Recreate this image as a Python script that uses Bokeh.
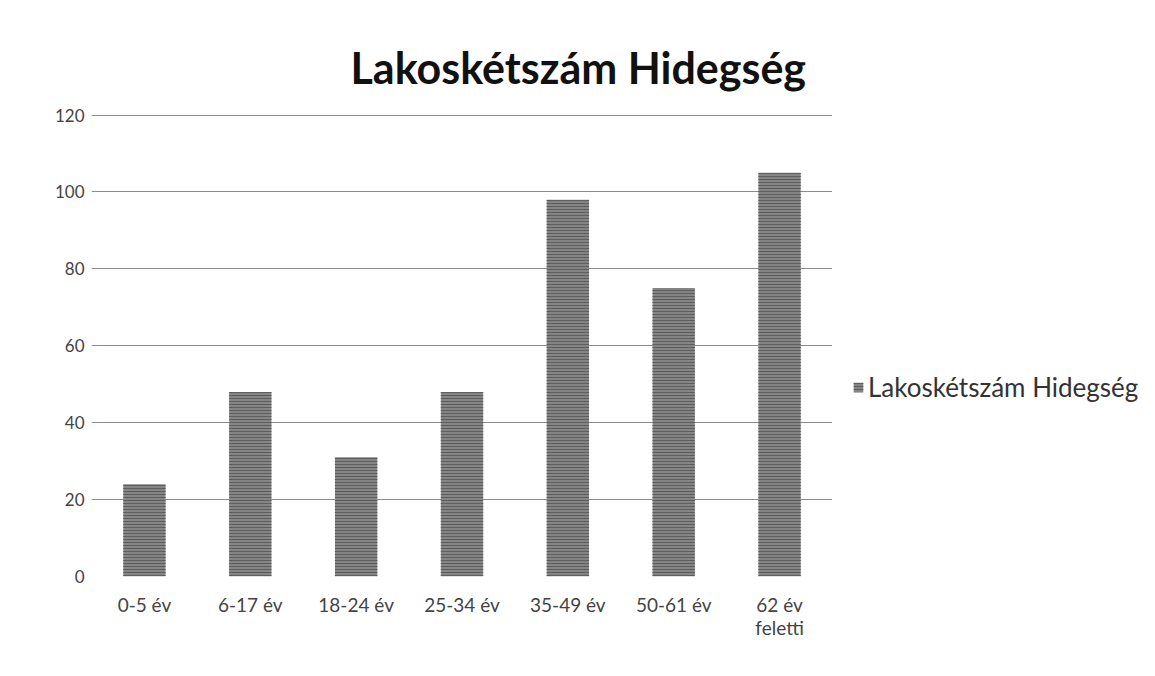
from bokeh.plotting import figure
from bokeh.models import ColumnDataSource, Legend, LegendItem, Range1d, FixedTicker, FactorRange
from bokeh.layouts import row
from bokeh.embed import file_html
from bokeh.resources import INLINE

categories = ["0-5 év", "6-17 év", "18-24 év", "25-34 év", "35-49 év", "50-61 év", "62 év\nfeletti"]
values = [24, 48, 31, 48, 98, 75, 105]
series_name = "Lakoskétszám Hidegség"
title_text = "Lakoskétszám Hidegség"
y_ticks = [0, 20, 40, 60, 80, 100, 120]

BAR = dict(fill_color="#858585", line_color=None, hatch_pattern="horizontal_line",
           hatch_color="#5e5e5e", hatch_scale=3, hatch_weight=1)

W1, W2, H = 832, 307, 660
src = ColumnDataSource(dict(cat=categories, val=values))

p = figure(x_range=FactorRange(*categories), y_range=Range1d(0, 120.4), width=W1, height=H,
           output_backend="svg", toolbar_location=None,
           min_border_left=91, min_border_right=0, min_border_top=113, min_border_bottom=84)
p.title.text = title_text
p.title.text_font = "Lato"
p.title.text_font_size = "43px"
p.title.text_font_style = "bold"
p.title.text_color = "#111111"
p.title.align = "left"
p.title.offset = 259
if hasattr(p.title, "standoff"):
    p.title.standoff = 42

p.vbar(x="cat", top="val", width=0.40, source=src, **BAR)

p.outline_line_color = None
p.xgrid.grid_line_color = None
p.ygrid.grid_line_color = "#8c8c8c"
p.ygrid.grid_line_width = 1
p.yaxis.ticker = FixedTicker(ticks=y_ticks)
for ax in (p.xaxis[0], p.yaxis[0]):
    ax.axis_line_color = None
    ax.major_tick_line_color = None
    ax.minor_tick_line_color = None
    ax.major_tick_out = 0
    ax.major_label_text_font = "Lato"
    ax.major_label_text_color = "#444444"
p.yaxis.major_label_text_font_size = "17px"
p.xaxis.major_label_text_font_size = "19px"
p.yaxis.major_label_standoff = 7
p.xaxis.major_label_standoff = 16
p.xaxis.major_label_text_line_height = 1.0

# legend panel (zero-height proxy bars, used only for the legend swatch)
p2 = figure(x_range=FactorRange(*categories), y_range=Range1d(0, 120.4), width=W2, height=H,
            output_backend="svg", toolbar_location=None,
            min_border_left=0, min_border_right=0, min_border_top=0, min_border_bottom=0)
p2.axis.visible = False
p2.grid.grid_line_color = None
p2.outline_line_color = None
r2 = p2.vbar(x="cat", top="val", bottom="val", width=0.40, source=src, **BAR)
legend = Legend(items=[LegendItem(label=series_name, renderers=[r2])],
                location=(20, 173), border_line_color=None, background_fill_alpha=0,
                label_text_font="Lato", label_text_font_size="26px", label_text_color="#333333",
                glyph_width=12, glyph_height=12, padding=0, spacing=0, label_standoff=4, margin=0)
p2.add_layout(legend, "center")

layout = row(p, p2)
open("out.html", "w").write(file_html(layout, INLINE))
